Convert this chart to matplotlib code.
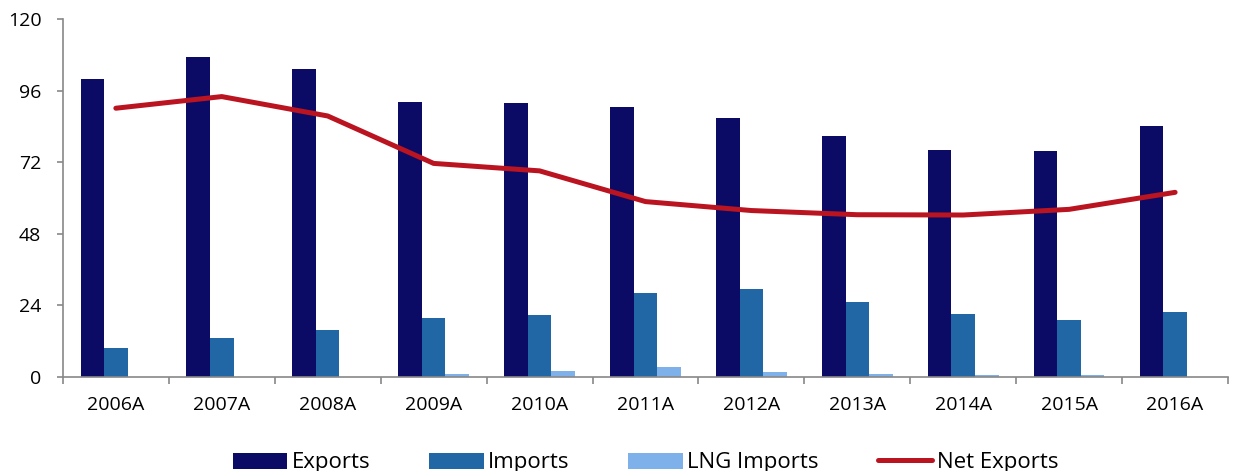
import numpy as np
import matplotlib
matplotlib.use("Agg")
import matplotlib.pyplot as plt

plt.rcParams['font.family'] = ['Open Sans', 'DejaVu Sans']

years = ["2006A", "2007A", "2008A", "2009A", "2010A", "2011A",
         "2012A", "2013A", "2014A", "2015A", "2016A"]
exports = [99.8, 107.4, 103.3, 92.2, 91.9, 90.4, 86.7, 80.8, 76.2, 75.9, 84.1]
imports = [9.6, 13.1, 15.8, 19.7, 20.7, 28.0, 29.4, 25.3, 21.2, 19.1, 21.8]
lng_imports = [0.0, 0.0, 0.0, 1.0, 2.1, 3.2, 1.7, 0.9, 0.5, 0.5, 0.0]
net_exports = [90.1, 94.0, 87.5, 71.6, 69.1, 58.8, 55.8, 54.4, 54.3, 56.2, 61.9]

c_exp = "#0b0b66"
c_imp = "#2166a5"
c_lng = "#7eb0ea"
c_net = "#ba1421"
axis_grey = "#888888"

x = np.arange(len(years))
w = 0.222

fig = plt.figure(figsize=(12.33, 4.71), dpi=100)
ax = fig.add_axes([0.051, 0.1996, 0.945, 0.760])

b1 = ax.bar(x - w, exports, w, color=c_exp, label="Exports")
b2 = ax.bar(x, imports, w, color=c_imp, label="Imports")
b3 = ax.bar(x + w, lng_imports, w, color=c_lng, label="LNG Imports")
l1, = ax.plot(x, net_exports, color=c_net, linewidth=3.6, solid_capstyle="round",
              solid_joinstyle="round", label="Net Exports")

# Axis formatting
ax.set_ylim(0, 120)
ax.set_yticks(np.arange(0, 121, 24))
ax.set_xlim(-0.5, len(years) - 0.5)
ax.set_xticks(x)
ax.set_xticklabels(years)
ax.set_xticks(np.arange(-0.5, len(years)), minor=True)
ax.tick_params(axis="x", which="major", length=0, pad=14, labelsize=14)
ax.tick_params(axis="x", which="minor", length=5, width=1.2, color=axis_grey, direction="out")
ax.tick_params(axis="y", length=4.5, width=1.2, color=axis_grey, pad=11, labelsize=14)

for side in ("top", "right"):
    ax.spines[side].set_visible(False)
for side in ("left", "bottom"):
    ax.spines[side].set_color(axis_grey)
    ax.spines[side].set_linewidth(1.2)

leg = ax.legend([b1, b2, b3, l1], ["Exports", "Imports", "LNG Imports", "Net Exports"],
                loc="center", bbox_to_anchor=(0.5, -0.24), ncol=4, frameon=False,
                fontsize=16, handlelength=2.45, handleheight=0.75,
                handletextpad=0.2, columnspacing=2.65, borderaxespad=0)

fig.savefig("out.png", dpi=100)
print("Plot saved")
